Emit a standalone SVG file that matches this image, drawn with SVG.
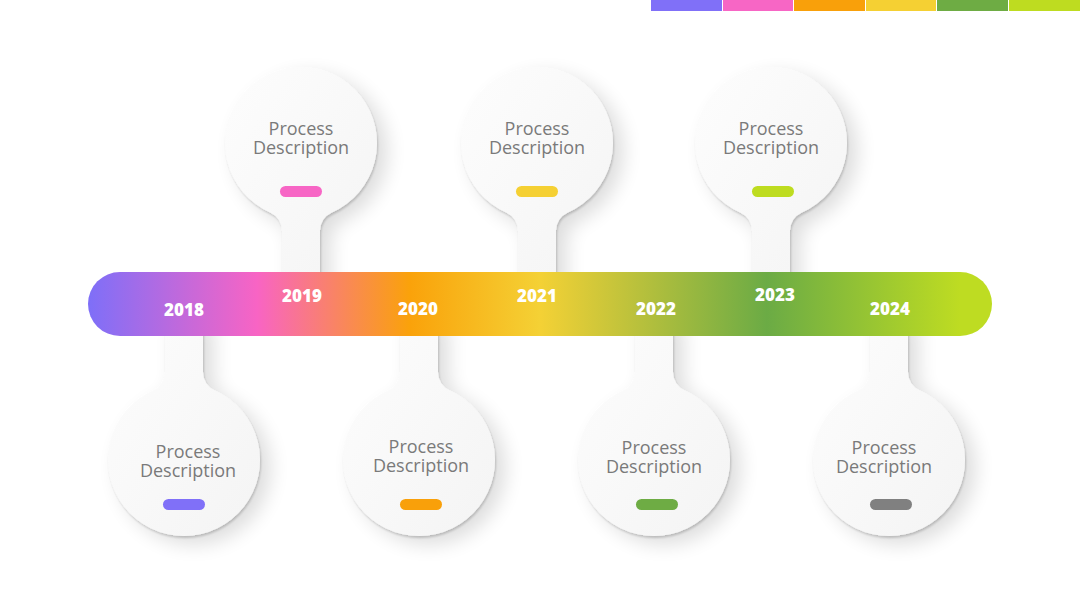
<svg xmlns="http://www.w3.org/2000/svg" xmlns:xlink="http://www.w3.org/1999/xlink" width="1080" height="608" viewBox="0 0 1080 608">
  <defs>
    <style>
      .node-shape { fill: url(#nodeGrad); filter: url(#shadow); }
      .desc { font-family: "Open Sans", "Liberation Sans", sans-serif; font-size: 18px; fill: #7A7A7A; text-anchor: middle; }
      .year { font-family: "Open Sans", "Liberation Sans", sans-serif; font-size: 17px; font-weight: 800; fill: #FFFFFF; text-anchor: middle; }
    </style>
    <linearGradient id="barGrad" x1="88" y1="0" x2="992" y2="0" gradientUnits="userSpaceOnUse">
      <stop offset="0" stop-color="#7E6FF8"/>
      <stop offset="0.187" stop-color="#F864C4"/>
      <stop offset="0.356" stop-color="#FAA20A"/>
      <stop offset="0.5" stop-color="#F4D135"/>
      <stop offset="0.751" stop-color="#6BAB45"/>
      <stop offset="0.965" stop-color="#BEDC22"/>
    </linearGradient>
    <linearGradient id="nodeGrad" x1="0" y1="0" x2="1" y2="1">
      <stop offset="0" stop-color="#FDFDFD"/>
      <stop offset="1" stop-color="#F4F4F4"/>
    </linearGradient>
    <filter id="shadow" x="-40%" y="-40%" width="180%" height="180%">
      <feDropShadow dx="1" dy="2" stdDeviation="1.2" flood-color="#000" flood-opacity="0.18" result="s1"/>
      <feGaussianBlur in="SourceAlpha" stdDeviation="10" result="b"/>
      <feOffset in="b" dx="10" dy="8" result="o"/>
      <feComponentTransfer in="o" result="s2"><feFuncA type="linear" slope="0.14"/></feComponentTransfer>
      <feMerge><feMergeNode in="s2"/><feMergeNode in="s1"/></feMerge>
    </filter>
    <path id="topShape" d="M19,142 L19,87.72 A20 20 0 0 1 30.875,69.45 A76 76 0 1 0 -30.875,69.45 A20 20 0 0 1 -19,87.72 L-19,142 Z"/>
    <path id="bottomShape" d="M19,-144 L19,-87.72 A20 20 0 0 0 30.875,-69.45 A76 76 0 1 1 -30.875,-69.45 A20 20 0 0 0 -19,-87.72 L-19,-144 Z"/>
  </defs>

  <rect x="0" y="0" width="1080" height="608" fill="#FFFFFF"/>

  <g id="color-strip">
    <rect x="651" y="0" width="71" height="11" fill="#8070F8"/>
    <rect x="723" y="0" width="70" height="11" fill="#F766C5"/>
    <rect x="794" y="0" width="71" height="11" fill="#F9A00A"/>
    <rect x="866" y="0" width="70" height="11" fill="#F5D033"/>
    <rect x="937" y="0" width="71" height="11" fill="#6EAC44"/>
    <rect x="1009" y="0" width="71" height="11" fill="#BEDC20"/>
  </g>

  <g id="node-2019">
    <use href="#topShape" x="301" y="143" class="node-shape"/>
    <text class="desc" x="301" y="135">Process<tspan x="301" dy="19">Description</tspan></text>
    <rect x="280" y="186" width="42" height="11" rx="5.5" fill="#F766C5"/>
  </g>
  <g id="node-2021">
    <use href="#topShape" x="537" y="143" class="node-shape"/>
    <text class="desc" x="537" y="135">Process<tspan x="537" dy="19">Description</tspan></text>
    <rect x="516" y="186" width="42" height="11" rx="5.5" fill="#F5D033"/>
  </g>
  <g id="node-2023">
    <use href="#topShape" x="771" y="143" class="node-shape"/>
    <text class="desc" x="771" y="135">Process<tspan x="771" dy="19">Description</tspan></text>
    <rect x="752" y="186" width="42" height="11" rx="5.5" fill="#BEDC20"/>
  </g>

  <g id="node-2018">
    <use href="#bottomShape" x="184" y="460" class="node-shape"/>
    <text class="desc" x="188" y="458">Process<tspan x="188" dy="19">Description</tspan></text>
    <rect x="163" y="499" width="42" height="11" rx="5.5" fill="#8070F8"/>
  </g>
  <g id="node-2020">
    <use href="#bottomShape" x="419" y="460" class="node-shape"/>
    <text class="desc" x="421" y="453">Process<tspan x="421" dy="19">Description</tspan></text>
    <rect x="400" y="499" width="42" height="11" rx="5.5" fill="#F9A00A"/>
  </g>
  <g id="node-2022">
    <use href="#bottomShape" x="654" y="460" class="node-shape"/>
    <text class="desc" x="654" y="454">Process<tspan x="654" dy="19">Description</tspan></text>
    <rect x="636" y="499" width="42" height="11" rx="5.5" fill="#6EAC44"/>
  </g>
  <g id="node-2024">
    <use href="#bottomShape" x="889" y="460" class="node-shape"/>
    <text class="desc" x="884" y="454">Process<tspan x="884" dy="19">Description</tspan></text>
    <rect x="870" y="499" width="42" height="11" rx="5.5" fill="#808080"/>
  </g>

  <g id="timeline">
    <rect x="88" y="272" width="904" height="64" rx="32" fill="url(#barGrad)"/>
    <text class="year" x="184" y="316">2018</text>
    <text class="year" x="302" y="302">2019</text>
    <text class="year" x="418" y="315">2020</text>
    <text class="year" x="537" y="302">2021</text>
    <text class="year" x="656" y="315">2022</text>
    <text class="year" x="775" y="301">2023</text>
    <text class="year" x="890" y="315">2024</text>
  </g>
</svg>
